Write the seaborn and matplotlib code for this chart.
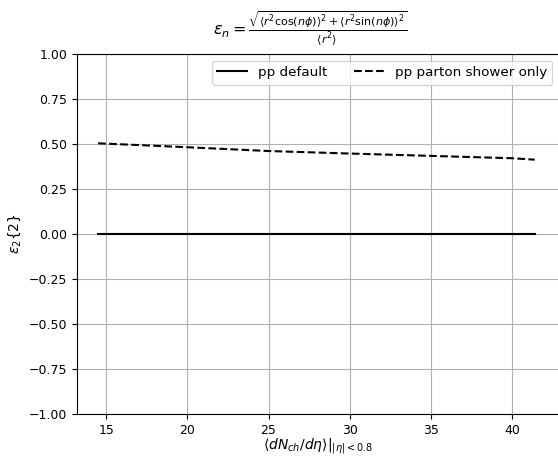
import matplotlib
matplotlib.use("Agg")
import matplotlib.pyplot as plt
import seaborn as sns
import pandas as pd

mult = [14.5, 20.0, 25.0, 30.0, 35.0, 40.0, 41.4]
eps_default = [0.0, 0.0, 0.0, 0.0, 0.0, 0.0, 0.0]
eps_shower = [0.504, 0.482, 0.461, 0.447, 0.434, 0.421, 0.413]

df = pd.concat([
    pd.DataFrame({"x": mult, "y": eps_default, "label": "pp default"}),
    pd.DataFrame({"x": mult, "y": eps_shower, "label": "pp parton shower only"}),
])

plt.rcParams["font.size"] = 9

fig = plt.figure(figsize=(5.58, 4.58), dpi=100)
ax = fig.add_axes([77/558, (458-414)/458, (559-77)/558, (414-54)/458])

sns.lineplot(data=df[df.label == "pp default"], x="x", y="y", color="black",
             linestyle="-", label="pp default", ax=ax)
sns.lineplot(data=df[df.label == "pp parton shower only"], x="x", y="y", color="black",
             linestyle="--", label="pp parton shower only", ax=ax)

ax.set_ylim(-1, 1)
ax.set_xlim(13.2, 42.9)
ax.set_yticks([-1, -0.75, -0.5, -0.25, 0, 0.25, 0.5, 0.75, 1])
ax.set_xticks([15, 20, 25, 30, 35, 40])
ax.grid(True)
ax.set_xlabel(r"$\langle dN_{ch}/d\eta\rangle|_{|\eta|<0.8}$", fontsize=10, labelpad=0)
ax.set_ylabel(r"$\varepsilon_2\{2\}$", fontsize=10)
ax.set_title(r"$\varepsilon_n = \frac{\sqrt{\langle r^2 \cos(n\phi)\rangle^2 + \langle r^2 \sin(n\phi)\rangle^2}}{\langle r^2\rangle}$",
             fontsize=11.5, pad=14, x=0.483)
ax.legend(loc="upper right", ncol=2, fontsize=9.7, handlelength=2.2)

fig.savefig("out.png", dpi=100)
